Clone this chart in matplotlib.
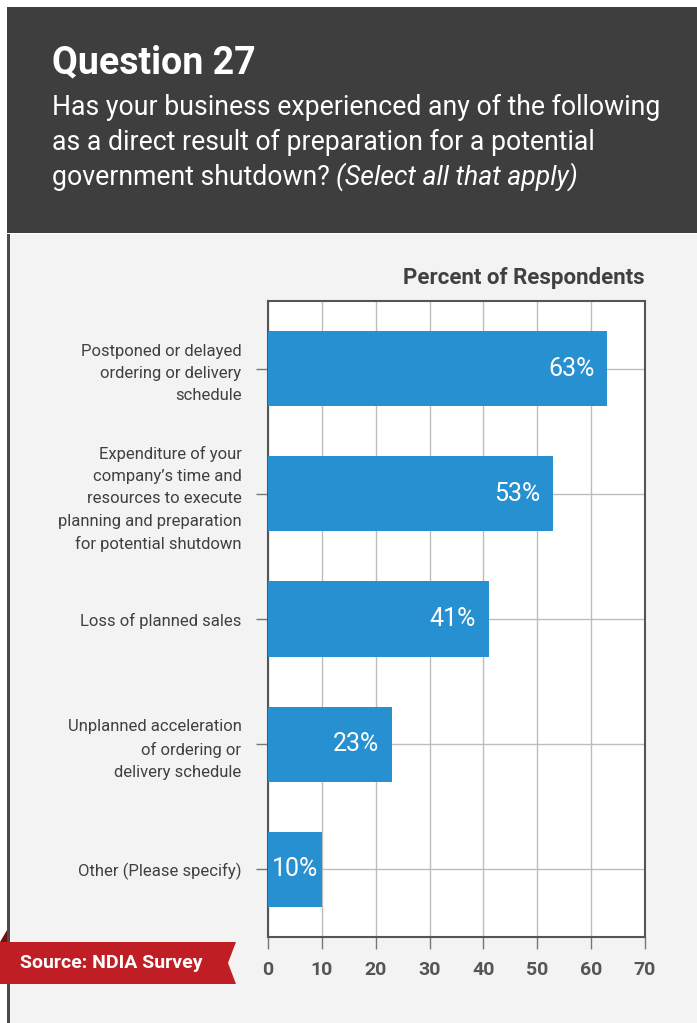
import matplotlib
matplotlib.use("Agg")
import matplotlib.pyplot as plt
from matplotlib.patches import Rectangle, Polygon

categories = [
    "Postponed or delayed\nordering or delivery\nschedule",
    "Expenditure of your\ncompany\u2019s time and\nresources to execute\nplanning and preparation\nfor potential shutdown",
    "Loss of planned sales",
    "Unplanned acceleration\nof ordering or\ndelivery schedule",
    "Other (Please specify)",
]
values = [63, 53, 41, 23, 10]
value_labels = ["63%", "53%", "41%", "23%", "10%"]
xticks = [0, 10, 20, 30, 40, 50, 60, 70]

W, H = 697, 1023
fig = plt.figure(figsize=(W / 100, H / 100), dpi=100)
fig.patch.set_facecolor("white")

def fx(px):
    return px / W

def fy(py):
    return 1 - py / H

# background panels
fig.add_artist(Rectangle((fx(7), fy(1023)), fx(697 - 7), (1023 - 234) / H,
                         transform=fig.transFigure, facecolor="#f2f3f2", edgecolor="none", zorder=0))
fig.add_artist(Rectangle((fx(7), fy(1023)), fx(3), (1023 - 234) / H,
                         transform=fig.transFigure, facecolor="#4a4a4a", edgecolor="none", zorder=1))
fig.add_artist(Rectangle((fx(7), fy(233)), fx(690), (233 - 7) / H,
                         transform=fig.transFigure, facecolor="#3e3e3e", edgecolor="none", zorder=1))

fig.text(fx(52), fy(63), "Question 27", color="white", fontsize=27, fontweight="bold",
         family="Roboto", va="center", ha="left")
fs_sub = 19.2
fig.text(fx(52), fy(107), "Has your business experienced any of the following",
         color="white", fontsize=fs_sub, family="Roboto", va="center", ha="left")
fig.text(fx(52), fy(142), "as a direct result of preparation for a potential",
         color="white", fontsize=fs_sub, family="Roboto", va="center", ha="left")
t = fig.text(fx(52), fy(177), "government shutdown? ", color="white", fontsize=fs_sub,
             family="Roboto", va="center", ha="left")
fig.canvas.draw()
bb = t.get_window_extent()
fig.text(bb.x1 / W, fy(177), "(Select all that apply)", color="white", fontsize=fs_sub,
         family="Roboto", style="italic", va="center", ha="left")

# axes
L, R, T, B = 268, 645, 301, 937
ax = fig.add_axes([fx(L), fy(B), fx(R - L), (B - T) / H])
ax.set_facecolor("white")
ypos = list(range(len(categories)))
ax.barh(ypos, values, height=0.6, color="#2790d0", zorder=3)
ax.set_xlim(0, 70)
ax.set_ylim(len(categories) - 0.46, -0.54)
ax.set_xticks(xticks)
ax.set_xticklabels([str(v) for v in xticks])
ax.set_yticks(ypos)
ax.set_yticklabels(categories)
ax.grid(True, color="#bdbdbd", linewidth=1, zorder=0)
for s in ax.spines.values():
    s.set_color("#555555")
    s.set_linewidth(1.5)
ax.tick_params(axis="x", length=8.6, width=1, color="#777777", pad=9,
               labelsize=14, labelcolor="#555555")
ax.tick_params(axis="y", length=8.6, width=1, color="#777777", pad=10.5,
               labelsize=12, labelcolor="#404040")
for lab in ax.get_xticklabels():
    lab.set_fontweight("bold")
    lab.set_family("Roboto")
for lab in ax.get_yticklabels():
    lab.set_family("Roboto")
    lab.set_linespacing(1.6)

for y, v, s in zip(ypos, values, value_labels):
    if v > 15:
        ax.text(v - 2.4, y, s, color="white", fontsize=18, family="Roboto",
                ha="right", va="center", zorder=4)
    else:
        ax.text(0.7, y, s, color="white", fontsize=18, family="Roboto",
                ha="left", va="center", zorder=4)

fig.text(fx(645), fy(278), "Percent of Respondents", color="#404040", fontsize=16,
         fontweight="bold", family="Roboto", ha="right", va="center")

# source banner
banner = Polygon([(fx(0), fy(942)), (fx(236), fy(942)), (fx(228), fy(963)),
                  (fx(236), fy(984)), (fx(0), fy(984))], closed=True,
                 transform=fig.transFigure, facecolor="#be1e24", edgecolor="none", zorder=5)
fig.add_artist(banner)
fold = Polygon([(fx(0), fy(942)), (fx(7), fy(942)), (fx(7), fy(930))], closed=True,
               transform=fig.transFigure, facecolor="#6e1014", edgecolor="none", zorder=5)
fig.add_artist(fold)
fig.text(fx(20), fy(963), "Source: NDIA Survey", color="white", fontsize=14,
         fontweight="bold", family="Roboto", ha="left", va="center", zorder=6)

fig.savefig("out.png", dpi=100)
